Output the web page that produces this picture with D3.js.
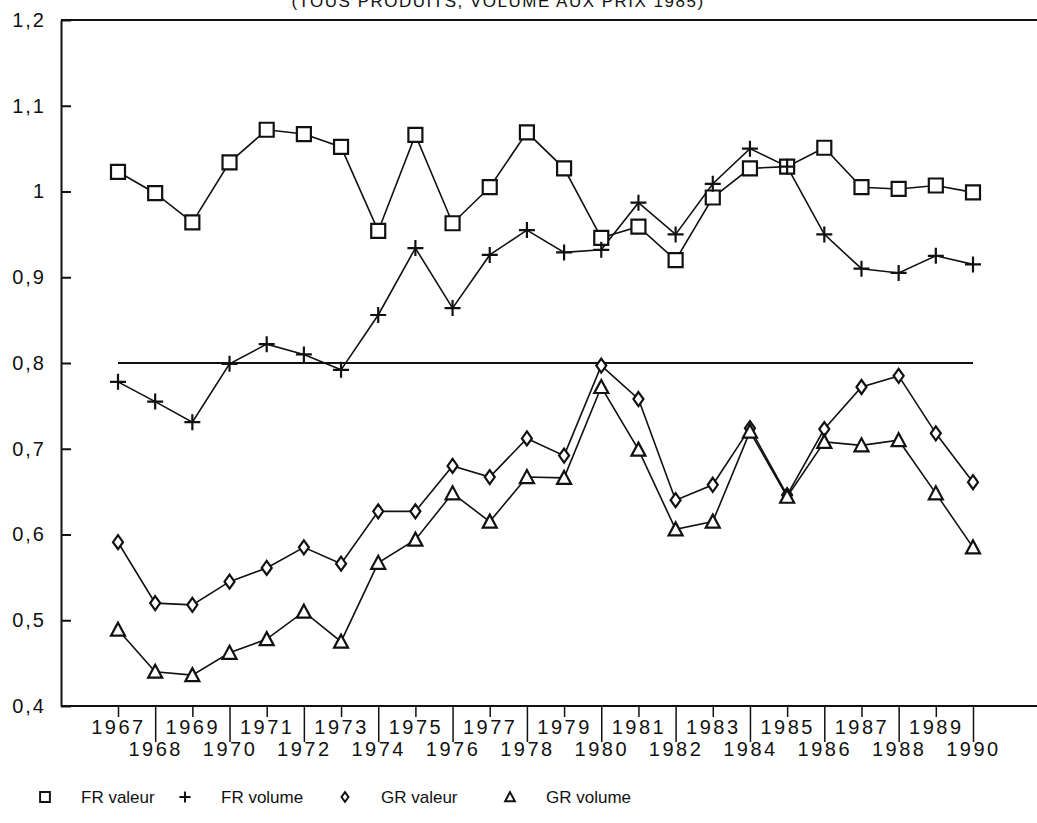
<!DOCTYPE html>
<html>
<head>
<meta charset="utf-8">
<script src="https://cdn.jsdelivr.net/npm/d3@7"></script>
<style>
  body { margin: 0; background: #fff; }
  svg { display: block; }
  text { font-family: "Liberation Sans", Arial, sans-serif; fill: #111; }
</style>
</head>
<body>
<svg id="chart" width="1037" height="823"></svg>
<script>
// years on the x axis
var years = d3.range(1967, 1991);

// series
var frValeur = [1.023, 0.998, 0.964, 1.034, 1.072, 1.067, 1.052, 0.954, 1.066, 0.963, 1.005, 1.069,
                1.027, 0.946, 0.959, 0.920, 0.993, 1.027, 1.029, 1.051, 1.005, 1.003, 1.007, 0.999];
var frVolume = [0.778, 0.755, 0.731, 0.799, 0.822, 0.810, 0.792, 0.856, 0.934, 0.864, 0.926, 0.955,
                0.929, 0.932, 0.987, 0.950, 1.009, 1.050, 1.029, 0.950, 0.910, 0.905, 0.925, 0.915];
var grValeur = [0.591, 0.520, 0.518, 0.545, 0.561, 0.585, 0.566, 0.627, 0.627, 0.680, 0.667, 0.712,
                0.692, 0.797, 0.758, 0.640, 0.658, 0.724, 0.646, 0.723, 0.772, 0.785, 0.718, 0.661];
var grVolume = [0.489, 0.440, 0.436, 0.462, 0.478, 0.510, 0.475, 0.567, 0.594, 0.648, 0.615, 0.667,
                0.666, 0.772, 0.699, 0.606, 0.615, 0.720, 0.644, 0.708, 0.704, 0.710, 0.648, 0.585];

var yTicks = [0.4, 0.5, 0.6, 0.7, 0.8, 0.9, 1.0, 1.1, 1.2];
var refLevel = 0.8;
var seriesNames = ["FR valeur", "FR volume", "GR valeur", "GR volume"];
var title = "(TOUS PRODUITS, VOLUME AUX PRIX 1985)";

var svg = d3.select("#chart");
var axisX0 = 61, axisRight = 1037, plotTop = 20, plotBottom = 706;

var x = d3.scaleLinear().domain([1967, 1990]).range([118, 973]);
var y = d3.scaleLinear().domain([0.4, 1.2]).range([plotBottom, plotTop]);

var fmt = function(d) { return d === 1 ? "1" : d.toFixed(1).replace(".", ","); };

// title, cut at the top edge
svg.append("text")
    .attr("x", 498).attr("y", 7)
    .attr("text-anchor", "middle")
    .style("font-size", "17px")
    .style("letter-spacing", "1.5px")
    .text(title);

// top line of the frame
svg.append("line")
    .attr("x1", axisX0).attr("x2", axisRight)
    .attr("y1", y(1.2)).attr("y2", y(1.2))
    .attr("stroke", "#111").attr("stroke-width", 2);

// y axis
var yAxis = svg.append("g")
    .attr("transform", "translate(" + axisX0 + ",0)")
    .call(d3.axisLeft(y).tickValues(yTicks).tickFormat(fmt).tickSizeInner(-10).tickSizeOuter(0).tickPadding(15));
yAxis.select(".domain").attr("stroke", "#111").attr("stroke-width", 2);
yAxis.selectAll(".tick line").attr("stroke", "#111").attr("stroke-width", 2);
yAxis.selectAll(".tick text")
    .style("font-size", "20px")
    .style("letter-spacing", "2px")
    .attr("fill", "#111");

// x axis
var xAxis = svg.append("g")
    .attr("transform", "translate(0," + plotBottom + ")")
    .call(d3.axisBottom(x).tickValues(years).tickFormat(d3.format("d")).tickSizeOuter(0));
xAxis.select(".domain").remove();
xAxis.append("line")
    .attr("x1", axisX0).attr("x2", axisRight)
    .attr("stroke", "#111").attr("stroke-width", 2);
xAxis.selectAll(".tick line")
    .attr("stroke", "#111").attr("stroke-width", 1.5)
    .attr("y2", function(d) { return d % 2 === 0 ? 36 : 11; });
xAxis.selectAll(".tick text")
    .attr("fill", "#111")
    .style("font-size", "20px")
    .style("letter-spacing", "2.5px")
    .attr("dy", null)
    .attr("y", function(d) { return d % 2 === 0 ? 50 : 28; });

// reference line at 0.8
svg.append("line")
    .attr("x1", x(1967)).attr("x2", x(1990))
    .attr("y1", y(refLevel)).attr("y2", y(refLevel))
    .attr("stroke", "#111").attr("stroke-width", 2);

// marker shapes
var shapes = {
  square: "M-7,-7H7V7H-7Z",
  plus: "M-8,0H8M0,-8V8",
  diamond: "M0,-7L5,0L0,7L-5,0Z",
  triangle: "M0,-7L7,6H-7Z"
};

var series = [
  { name: seriesNames[0], values: frValeur, shape: "square" },
  { name: seriesNames[1], values: frVolume, shape: "plus" },
  { name: seriesNames[2], values: grValeur, shape: "diamond" },
  { name: seriesNames[3], values: grVolume, shape: "triangle" }
];

var line = d3.line()
    .x(function(d, i) { return x(years[i]); })
    .y(function(d) { return y(d); });

series.forEach(function(s) {
  svg.append("path")
      .attr("d", line(s.values))
      .attr("fill", "none")
      .attr("stroke", "#111")
      .attr("stroke-width", 1.6);
});

series.forEach(function(s) {
  svg.selectAll(".m-" + s.shape)
      .data(s.values)
      .enter().append("path")
      .attr("class", "m-" + s.shape)
      .attr("transform", function(d, i) { return "translate(" + x(years[i]) + "," + y(d) + ")"; })
      .attr("d", shapes[s.shape])
      .attr("fill", s.shape === "plus" ? "none" : "#fff")
      .attr("stroke", "#111")
      .attr("stroke-width", 2.2);
});

// legend
var legendX = [45, 185, 345, 510];
var legendY = 797;
var lg = svg.append("g").selectAll("g")
    .data(series)
    .enter().append("g")
    .attr("transform", function(d, i) { return "translate(" + legendX[i] + "," + legendY + ")"; });
lg.append("path")
    .attr("d", function(d) { return shapes[d.shape]; })
    .attr("transform", "scale(0.7)")
    .attr("fill", function(d) { return d.shape === "plus" ? "none" : "#fff"; })
    .attr("stroke", "#111")
    .attr("stroke-width", 2.8);
lg.append("text")
    .attr("x", 36).attr("y", 6)
    .style("font-size", "17px")
    .text(function(d) { return d.name; });
</script>
</body>
</html>
